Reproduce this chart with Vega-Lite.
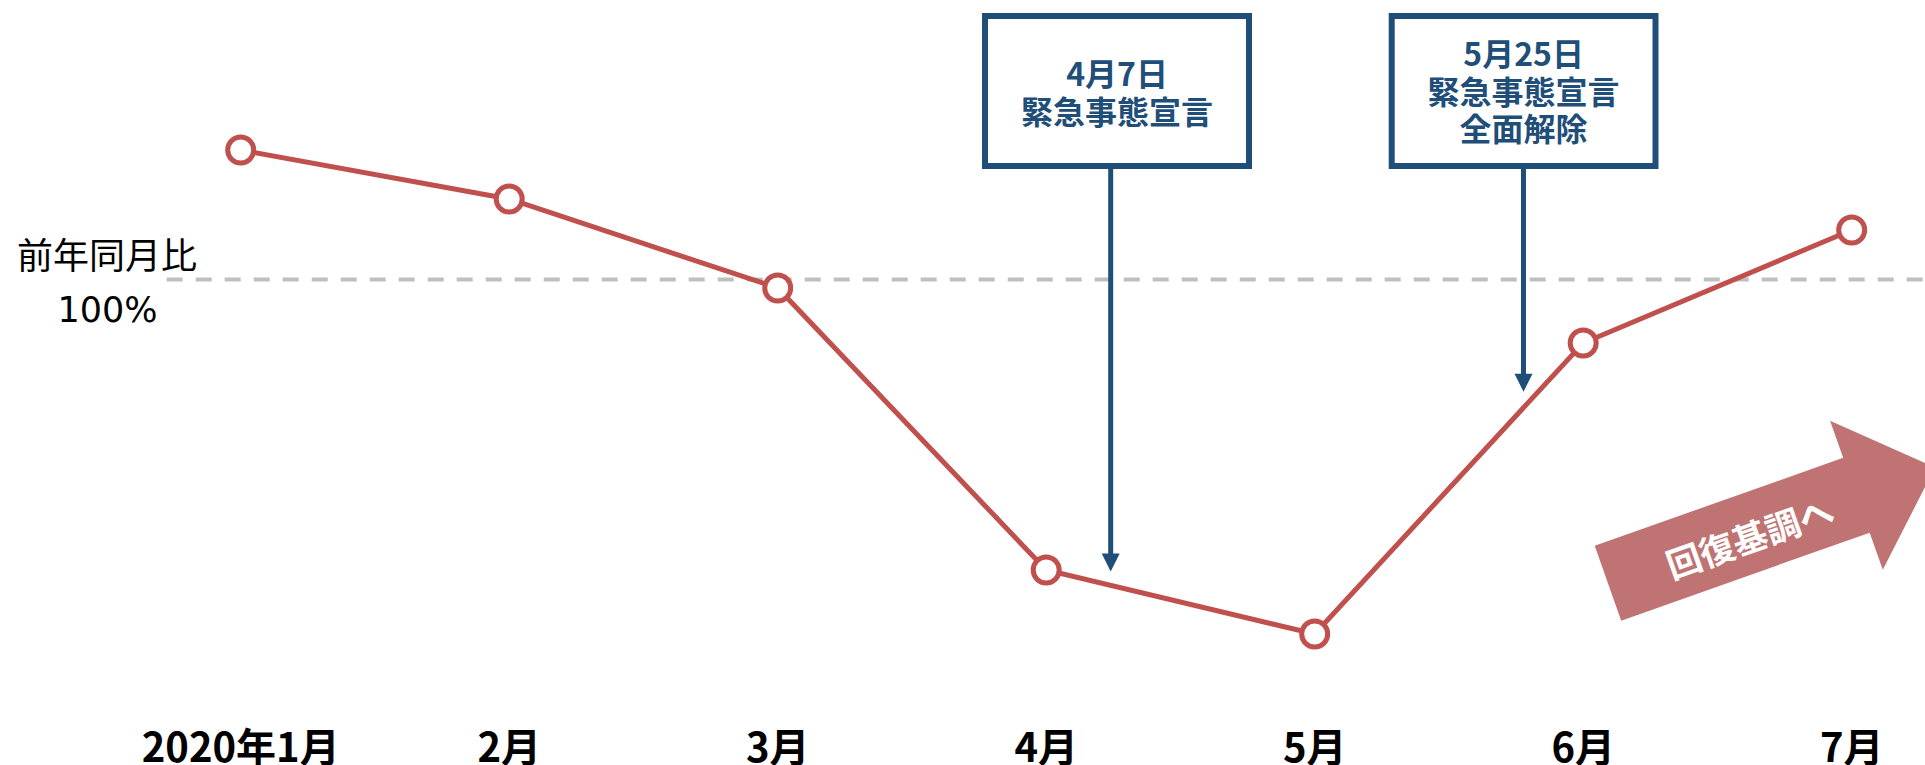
{
  "$schema": "https://vega.github.io/schema/vega-lite/v6.json",
  "width": 1925,
  "height": 765,
  "padding": 0,
  "autosize": {"type": "none"},
  "background": "white",
  "config": {"view": {"stroke": null}, "font": "Noto Sans CJK JP"},
  "datasets": {
    "series": [
      {"month": 1, "label": "2020年1月", "value": 112.95},
      {"month": 2, "label": "2月", "value": 108.05},
      {"month": 3, "label": "3月", "value": 99.15},
      {"month": 4, "label": "4月", "value": 70.95},
      {"month": 5, "label": "5月", "value": 64.55},
      {"month": 6, "label": "6月", "value": 93.65},
      {"month": 7, "label": "7月", "value": 104.95}
    ],
    "reference": [{"x1": 0.7244, "x2": 7.4, "y": 100}],
    "refTitle": [{"x": 0.502, "y": 102.19, "text": "前年同月比"}],
    "refValue": [{"x": 0.504, "y": 96.85, "text": "100%"}],
    "boxes": [
      {"x1": 3.7721, "x2": 4.7553, "y1": 126.35, "y2": 111.35},
      {"x1": 5.2868, "x2": 6.2693, "y1": 126.35, "y2": 111.35}
    ],
    "arrows": [
      {"x": 4.2402, "y1": 111.35, "y2": 71.9, "tip": 70.79},
      {"x": 5.7776, "y1": 111.35, "y2": 89.9, "tip": 88.78}
    ],
    "boxText": [
      {"x": 4.2637, "y": 120.4, "text": "4月7日"},
      {"x": 4.2637, "y": 116.6, "text": "緊急事態宣言"},
      {"x": 5.778, "y": 122.4, "text": "5月25日"},
      {"x": 5.778, "y": 118.6, "text": "緊急事態宣言"},
      {"x": 5.778, "y": 114.9, "text": "全面解除"}
    ],
    "trend": [{"x": 6.7013, "y": 75.42, "tx": 6.6238, "ty": 73.95, "text": "回復基調へ"}]
  },
  "layer": [
    {
      "data": {"name": "reference"},
      "mark": {"type": "rule", "color": "#bfbfbf", "strokeWidth": 4, "strokeDash": [16, 13]},
      "encoding": {
        "x": {"field": "x1", "type": "quantitative", "scale": {"domain": [0.10354, 7.273], "nice": false, "zero": false}, "axis": null},
        "x2": {"field": "x2"},
        "y": {"field": "y", "type": "quantitative", "scale": {"domain": [51.45, 127.95], "nice": false, "zero": false}, "axis": null}
      }
    },
    {
      "data": {"name": "series"},
      "mark": {"type": "line", "color": "#c0504d", "strokeWidth": 5},
      "encoding": {
        "x": {"field": "month", "type": "quantitative", "scale": {"domain": [0.10354, 7.273], "nice": false, "zero": false}, "axis": null},
        "y": {"field": "value", "type": "quantitative", "scale": {"domain": [51.45, 127.95], "nice": false, "zero": false}, "axis": null}
      }
    },
    {
      "data": {"name": "series"},
      "mark": {"type": "point", "shape": "circle", "filled": true, "fill": "white", "stroke": "#c0504d", "strokeWidth": 5, "size": 676, "opacity": 1},
      "encoding": {
        "x": {"field": "month", "type": "quantitative", "scale": {"domain": [0.10354, 7.273], "nice": false, "zero": false}, "axis": null},
        "y": {"field": "value", "type": "quantitative", "scale": {"domain": [51.45, 127.95], "nice": false, "zero": false}, "axis": null}
      }
    },
    {
      "data": {"name": "series"},
      "mark": {"type": "text", "fontSize": 40, "fontWeight": "bold", "color": "#000000", "align": "center", "baseline": "alphabetic"},
      "encoding": {
        "x": {"field": "month", "type": "quantitative", "scale": {"domain": [0.10354, 7.273], "nice": false, "zero": false}, "axis": null},
        "y": {"datum": 51.75, "type": "quantitative", "scale": {"domain": [51.45, 127.95], "nice": false, "zero": false}, "axis": null},
        "text": {"field": "label"}
      }
    },
    {
      "data": {"name": "refTitle"},
      "mark": {"type": "text", "fontSize": 36, "fontWeight": "normal", "color": "#000000", "align": "center", "baseline": "middle"},
      "encoding": {
        "x": {"field": "x", "type": "quantitative", "scale": {"domain": [0.10354, 7.273], "nice": false, "zero": false}, "axis": null},
        "y": {"field": "y", "type": "quantitative", "scale": {"domain": [51.45, 127.95], "nice": false, "zero": false}, "axis": null},
        "text": {"field": "text"}
      }
    },
    {
      "data": {"name": "refValue"},
      "mark": {"type": "text", "font": "DejaVu Sans", "fontSize": 35, "fontWeight": "normal", "color": "#000000", "align": "center", "baseline": "middle"},
      "encoding": {
        "x": {"field": "x", "type": "quantitative", "scale": {"domain": [0.10354, 7.273], "nice": false, "zero": false}, "axis": null},
        "y": {"field": "y", "type": "quantitative", "scale": {"domain": [51.45, 127.95], "nice": false, "zero": false}, "axis": null},
        "text": {"field": "text"}
      }
    },
    {
      "data": {"name": "arrows"},
      "mark": {"type": "rule", "color": "#1f4e79", "strokeWidth": 5},
      "encoding": {
        "x": {"field": "x", "type": "quantitative", "scale": {"domain": [0.10354, 7.273], "nice": false, "zero": false}, "axis": null},
        "y": {"field": "y1", "type": "quantitative", "scale": {"domain": [51.45, 127.95], "nice": false, "zero": false}, "axis": null},
        "y2": {"field": "y2"}
      }
    },
    {
      "data": {"name": "arrows"},
      "mark": {"type": "point", "shape": "M -1 -2 L 1 -2 L 0 0 Z", "filled": true, "color": "#1f4e79", "size": 324, "opacity": 1},
      "encoding": {
        "x": {"field": "x", "type": "quantitative", "scale": {"domain": [0.10354, 7.273], "nice": false, "zero": false}, "axis": null},
        "y": {"field": "tip", "type": "quantitative", "scale": {"domain": [51.45, 127.95], "nice": false, "zero": false}, "axis": null}
      }
    },
    {
      "data": {"name": "boxes"},
      "mark": {"type": "rect", "fill": "white", "stroke": "#1f4e79", "strokeWidth": 6},
      "encoding": {
        "x": {"field": "x1", "type": "quantitative", "scale": {"domain": [0.10354, 7.273], "nice": false, "zero": false}, "axis": null},
        "x2": {"field": "x2"},
        "y": {"field": "y1", "type": "quantitative", "scale": {"domain": [51.45, 127.95], "nice": false, "zero": false}, "axis": null},
        "y2": {"field": "y2"}
      }
    },
    {
      "data": {"name": "boxText"},
      "mark": {"type": "text", "fontSize": 32, "fontWeight": "bold", "color": "#1f4e79", "align": "center", "baseline": "middle"},
      "encoding": {
        "x": {"field": "x", "type": "quantitative", "scale": {"domain": [0.10354, 7.273], "nice": false, "zero": false}, "axis": null},
        "y": {"field": "y", "type": "quantitative", "scale": {"domain": [51.45, 127.95], "nice": false, "zero": false}, "axis": null},
        "text": {"field": "text"}
      }
    },
    {
      "data": {"name": "trend"},
      "mark": {"type": "point", "shape": "M -1 -0.2288 L 0.5193 -0.2288 L 0.5193 -0.4553 L 1 0 L 0.5193 0.4553 L 0.5193 0.2288 L -1 0.2288 Z", "filled": true, "color": "#c07373", "size": 120409, "angle": 340.5, "opacity": 1, "strokeWidth": 0},
      "encoding": {
        "x": {"field": "x", "type": "quantitative", "scale": {"domain": [0.10354, 7.273], "nice": false, "zero": false}, "axis": null},
        "y": {"field": "y", "type": "quantitative", "scale": {"domain": [51.45, 127.95], "nice": false, "zero": false}, "axis": null}
      }
    },
    {
      "data": {"name": "trend"},
      "mark": {"type": "text", "fontSize": 35, "fontWeight": "bold", "color": "white", "align": "center", "baseline": "middle", "angle": 340.5},
      "encoding": {
        "x": {"field": "tx", "type": "quantitative", "scale": {"domain": [0.10354, 7.273], "nice": false, "zero": false}, "axis": null},
        "y": {"field": "ty", "type": "quantitative", "scale": {"domain": [51.45, 127.95], "nice": false, "zero": false}, "axis": null},
        "text": {"field": "text"}
      }
    }
  ]
}
